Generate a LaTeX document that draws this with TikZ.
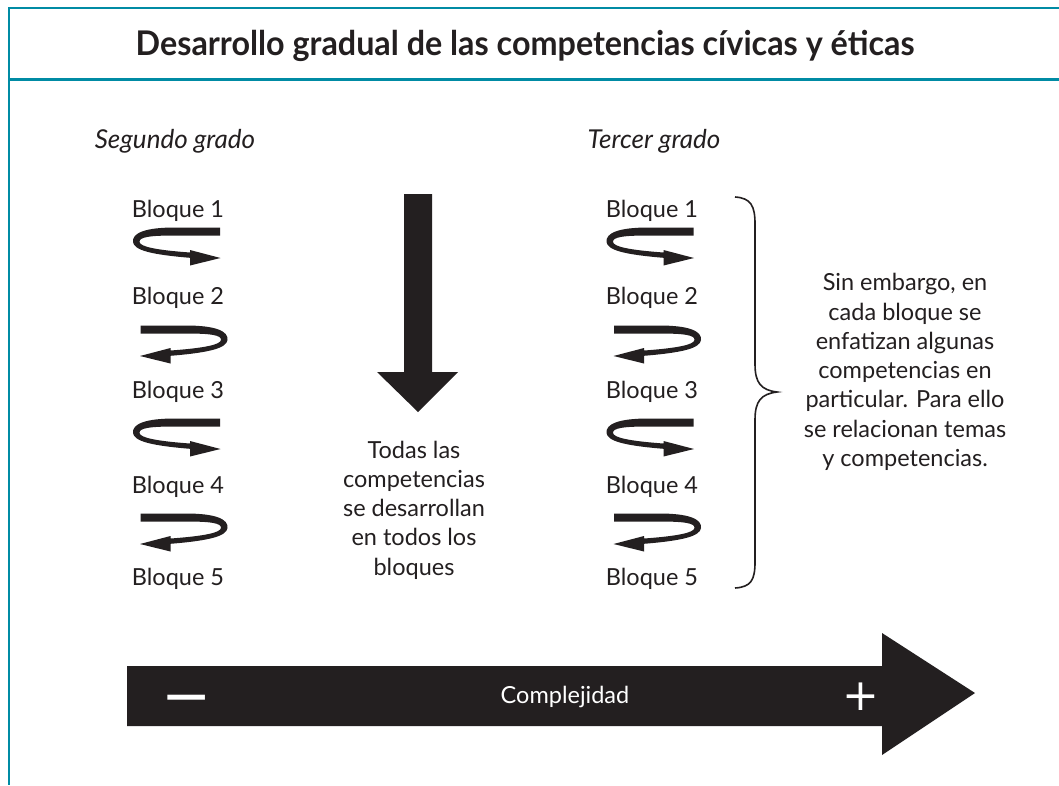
\documentclass[tikz,border=0pt]{standalone}
\usepackage{fontspec}
\setmainfont{Lato}
\newfontfamily\symfont{DejaVu Sans}
\definecolor{teal0}{RGB}{0,139,164}
\definecolor{ink}{RGB}{35,31,32}
\tikzset{
  ribbon/.pic={\fill[ink] (43.5,-18.5) -- (-1.5,-18.5)
     .. controls (-31.5,-18.5) and (-44.5,-13) .. (-43.5,-4)
     .. controls (-42.5,4) and (-26.5,8.5) .. (13.5,11.8)
     -- (13.5,19.5) -- (44,12) -- (13.5,4) -- (13.5,6.5)
     .. controls (-21.5,4) and (-36.5,0.5) .. (-37,-4)
     .. controls (-37.5,-9) and (-26.5,-10.5) .. (-1.5,-10.5)
     -- (43.5,-10.5) -- cycle;},
  txt/.style={font=\fontsize{23.5}{29.3}\selectfont, text=ink, inner sep=0pt, align=center},
  grado/.style={font=\fontsize{26}{30}\selectfont\itshape, text=ink, inner sep=0pt},
  titulo/.style={font=\fontsize{34}{38}\selectfont\bfseries, text=ink, inner sep=0pt},
}
\begin{document}
\begin{tikzpicture}[x=1pt,y=-1pt]
\useasboundingbox (0,0) rectangle (1059,785);
\fill[white] (0,0) rectangle (1059,785);
% frame
\draw[teal0, line width=2.2pt] (1059,8) -- (9,8) -- (9,785);
\draw[teal0, line width=2.6pt] (9,79.5) -- (1059,79.5);
\node[titulo] (title) at (525,46) {\scalebox{0.95}[1]{Desarrollo gradual de las competencias cívicas y éticas}};
% headings
\node[grado] (g2) at (175,141) {Segundo grado};
\node[grado] (g3) at (654,141) {Tercer grado};
% columns
\foreach \i/\y in {1/211,2/298,3/392,4/487,5/579}{
  \node[txt] (L\i) at (178,\y) {Bloque \i};
  \node[txt] (R\i) at (652,\y) {Bloque \i};
}
\pic at (176.5,246) {ribbon};
\pic[xscale=-1] at (184,344) {ribbon};
\pic at (176.5,437) {ribbon};
\pic[xscale=-1] at (184,532) {ribbon};
\pic at (650,246) {ribbon};
\pic[xscale=-1] at (657.5,344) {ribbon};
\pic at (650,437) {ribbon};
\pic[xscale=-1] at (657.5,532) {ribbon};
% down arrow
\fill[ink] (404,194) -- (432,194) -- (432,372) -- (458,372) -- (418,412) -- (377,372) -- (404,372) -- cycle;
\node[txt] (todas) at (414,510) {Todas las\\competencias\\se desarrollan\\en todos los\\bloques};
% brace
\draw[ink, line width=1.6pt] (735,197) .. controls (751,198) and (755,206) .. (755,224) -- (755,364)
  .. controls (755,383) and (761,390) .. (777,392) .. controls (761,394) and (755,401) .. (755,420)
  -- (755,562) .. controls (755,580) and (751,587) .. (735,588);
\node[txt] (sin) at (905,372) {Sin embargo, en\\cada bloque se\\enfatizan algunas\\competencias en\\particular. Para ello\\se relacionan temas\\y competencias.};
% big arrow
\fill[ink] (127,666) -- (882,666) -- (882,633) -- (975,693) -- (882,755) -- (882,726) -- (127,726) -- cycle;
\node[txt, text=white] (comp) at (565,697) {Complejidad};
\node[inner sep=0pt, text=white, font=\symfont\fontsize{60}{60}\selectfont] (minus) at (187,706) {−};
\node[inner sep=0pt, text=white, font=\symfont\fontsize{44}{44}\selectfont] (plus) at (861,697) {+};
\end{tikzpicture}
\end{document}
